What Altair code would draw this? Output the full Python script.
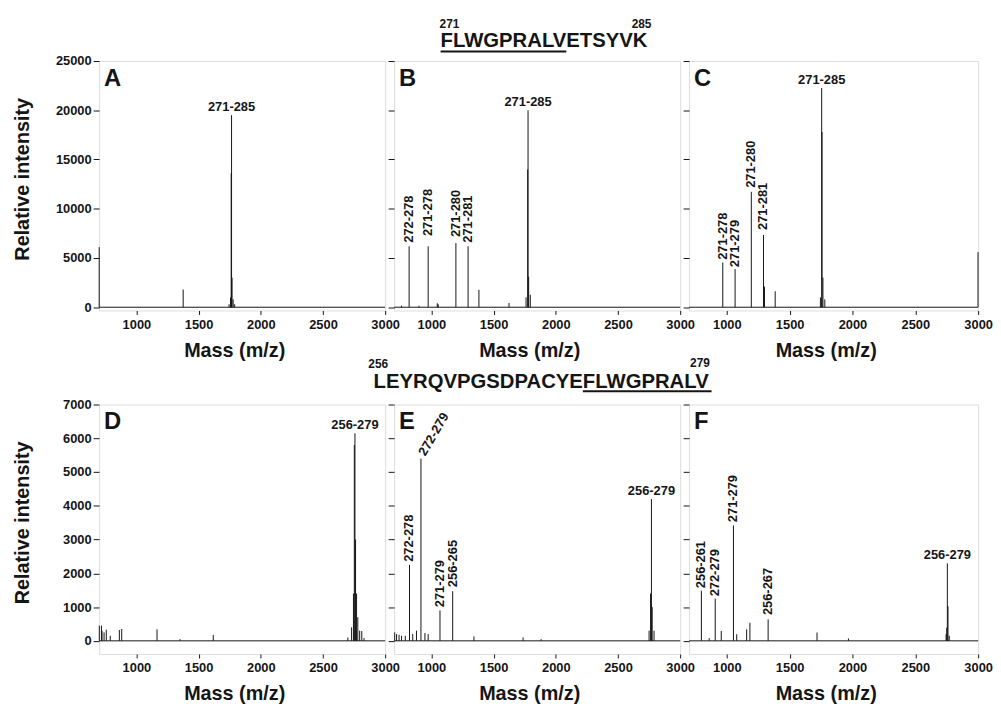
import altair as alt
import pandas as pd

FONT = "Liberation Sans"
INK = "#151515"

# ---------------- axes / scales ----------------
X_DOMAIN = [700, 3000]
X_TICKS = [1000, 1500, 2000, 2500, 3000]
TOP_Y_DOMAIN = [-330, 25000]
TOP_Y_TICKS = [0, 5000, 10000, 15000, 20000, 25000]
BOT_Y_DOMAIN = [-390, 7000]
BOT_Y_TICKS = [0, 1000, 2000, 3000, 4000, 5000, 6000, 7000]
X_TITLE = "Mass (m/z)"
Y_TITLE = "Relative intensity"

PANEL_LETTERS = ["A", "B", "C", "D", "E", "F"]
PANEL_WIDTHS = [289, 289, 292, 289, 289, 292]
ROW_HEIGHT = 252

# ---------------- spectra (m/z, intensity) ----------------
A_mass = [701, 1376, 1745, 1757, 1762, 1765, 1769, 1778, 1790]
A_int = [6100, 1800, 300, 1000, 13600, 19500, 3000, 800, 300]
A_lab_text = ["271-285"]
A_lab_mass = [1765]
A_lab_int = [19500]
A_lab_kind = ["h"]

B_mass = [760, 821, 900, 974, 1047, 1055, 1197, 1295, 1382, 1624, 1761, 1774, 1777, 1782, 1795]
B_int = [150, 6190, 150, 6190, 400, 300, 6520, 6190, 1770, 430, 1000, 14000, 20000, 3100, 1270]
B_lab_text = ["272-278", "271-278", "271-280", "271-281", "271-285"]
B_lab_mass = [821, 974, 1197, 1295, 1777]
B_lab_int = [6550, 7220, 7120, 6550, 20000]
B_lab_kind = ["v", "v", "v", "v", "h"]

C_mass = [968, 1066, 1195, 1292, 1300, 1385, 1745, 1755, 1758, 1765, 1780, 2999]
C_int = [4545, 3870, 11720, 7340, 2100, 1620, 1000, 22260, 17800, 3000, 800, 5600]
C_lab_text = ["271-278", "271-279", "271-280", "271-281", "271-285"]
C_lab_mass = [968, 1066, 1195, 1292, 1755]
C_lab_int = [4815, 4070, 12120, 7845, 22260]
C_lab_kind = ["v", "v", "v", "v", "h"]

D_mass = [702, 719, 724, 740, 758, 790, 863, 882, 1166, 1350, 1618, 2700, 2730, 2745,
          2752, 2757, 2762, 2770, 2780, 2795, 2812, 2830]
D_int = [450, 450, 300, 250, 330, 150, 320, 350, 340, 50, 175, 100, 400, 1400,
         5800, 6150, 3000, 1400, 700, 300, 290, 80]
D_lab_text = ["256-279"]
D_lab_mass = [2757]
D_lab_int = [6150]
D_lab_kind = ["h"]

E_mass = [705, 720, 740, 760, 790, 824, 850, 880, 916, 948, 974, 1069, 1171, 1342, 1737, 1882,
          2750, 2762, 2769, 2775, 2790]
E_int = [250, 200, 180, 150, 150, 2250, 200, 300, 5400, 230, 200, 900, 1470, 130, 100, 50,
         300, 1400, 4200, 1000, 300]
E_lab_text = ["272-278", "272-279", "271-279", "256-265", "256-279"]
E_lab_mass = [824, 916, 1069, 1171, 2769]
E_lab_int = [2340, 5460, 995, 1590, 4200]
E_lab_kind = ["v", "a", "v", "v", "h"]

F_mass = [798, 860, 908, 956, 1053, 1079, 1158, 1184, 1329, 1718, 1968, 2745, 2750, 2755, 2760, 2770]
F_int = [1484, 80, 1250, 293, 3418, 195, 340, 537, 635, 245, 70, 200, 390, 2295, 1025, 150]
F_lab_text = ["256-261", "272-279", "271-279", "256-267", "256-279"]
F_lab_mass = [798, 908, 1053, 1329, 2755]
F_lab_int = [1560, 1318, 3515, 762, 2295]
F_lab_kind = ["v", "v", "v", "v", "h"]

# ---------------- sequences ----------------
SEQ1_PARTS = ["FLWGPRALV", "ETSYVK"]      # first part underlined
SEQ1_NUMS = ["271", "285"]
SEQ2_PARTS = ["LEYRQVPGSDPACYE", "FLWGPRALV"]  # second part underlined
SEQ2_NUMS = ["256", "279"]


def x_axis(width):
    return alt.Axis(values=X_TICKS, format="d", title=X_TITLE, titleX=width / 2 - 8, titleY=46,
                    titleAlign="center", titleBaseline="alphabetic", titleFont=FONT,
                    titleFontSize=20, titleFontWeight="bold", titleColor=INK,
                    labelFont=FONT, labelFontSize=13, labelFontWeight="bold", labelColor=INK,
                    labelPadding=4, labelFlush=False, tickSize=4, tickColor=INK,
                    domain=False, grid=False)


def y_axis(ticks, show):
    kw = dict(values=ticks, format="d", labels=show, title=Y_TITLE if show else "",
              titleX=-71, titleY=119, titleAngle=270, titleAlign="center",
              titleBaseline="alphabetic", titleFont=FONT, titleFontSize=20,
              titleFontWeight="bold", titleColor=INK, labelFont=FONT, labelFontSize=13,
              labelFontWeight="bold", labelColor=INK, labelPadding=2, tickSize=6,
              tickColor=INK, domain=False, grid=False)
    return alt.Axis(**kw)


def txt(text, x, y, size, align, weight="bold"):
    return alt.Chart(pd.DataFrame({"t": [text]})).mark_text(
        align=align, baseline="alphabetic", font=FONT, fontSize=size,
        fontWeight=weight, color=INK).encode(x=alt.value(x), y=alt.value(y), text="t:N")


def underline(x1, x2, y):
    return alt.Chart(pd.DataFrame({"t": [0]})).mark_rule(color=INK, strokeWidth=2).encode(
        x=alt.value(x1), x2=alt.value(x2), y=alt.value(y))


def panel(i, mass, inten, lab_text, lab_mass, lab_int, lab_kind, ydom, yticks):
    width = PANEL_WIDTHS[i]
    show_y = i % 3 == 0
    xs = alt.X("mass:Q", scale=alt.Scale(domain=X_DOMAIN, nice=False, zero=False), axis=x_axis(width))
    ys = alt.Y("inten:Q", scale=alt.Scale(domain=ydom, nice=False, zero=False), axis=y_axis(yticks, show_y))
    pk = pd.DataFrame({"mass": mass, "inten": inten})
    lab = pd.DataFrame({"text": lab_text, "mass": lab_mass, "inten": lab_int, "kind": lab_kind})

    base = alt.Chart(pd.DataFrame({"inten": [0]})).mark_rule(color=INK, strokeWidth=1).encode(y=ys)
    peaks = alt.Chart(pk).mark_rule(color=INK, strokeWidth=1).encode(x=xs, y=ys, y2=alt.datum(0))
    common = dict(font=FONT, fontSize=13, fontWeight="bold", color=INK)
    layers = [base, peaks]
    if (lab.kind == "h").any():
        layers.append(alt.Chart(lab[lab.kind == "h"]).mark_text(
            align="center", baseline="alphabetic", dy=-4, **common).encode(x=xs, y=ys, text="text:N"))
    if (lab.kind == "v").any():
        layers.append(alt.Chart(lab[lab.kind == "v"]).mark_text(
            angle=270, align="left", baseline="middle", **common).encode(x=xs, y=ys, text="text:N"))
    if (lab.kind == "a").any():
        layers.append(alt.Chart(lab[lab.kind == "a"]).mark_text(
            angle=300, align="left", baseline="middle", dx=2, **common).encode(x=xs, y=ys, text="text:N"))
    layers.append(txt(PANEL_LETTERS[i], 5, 25, 24, "left"))

    if i == 1:
        layers += [
            txt(SEQ1_PARTS[0], 174, -13.7, 20.5, "right"),
            txt(SEQ1_PARTS[1], 174, -13.7, 20.5, "left"),
            underline(47, 174, -9.5),
            txt(SEQ1_NUMS[0], 46, -33, 12, "left"),
            txt(SEQ1_NUMS[1], 260, -33, 12, "right"),
        ]
    if i == 4:
        layers += [
            txt(SEQ2_PARTS[0], 190.7, -17, 20.5, "right"),
            txt(SEQ2_PARTS[1], 190.7, -17, 20.5, "left"),
            underline(190.7, 320.7, -13.5),
            txt(SEQ2_NUMS[0], -26, -37, 12, "left"),
            txt(SEQ2_NUMS[1], 319, -37.5, 12, "right"),
        ]
    return alt.layer(*layers).properties(width=width, height=ROW_HEIGHT)


panels = [
    panel(0, A_mass, A_int, A_lab_text, A_lab_mass, A_lab_int, A_lab_kind, TOP_Y_DOMAIN, TOP_Y_TICKS),
    panel(1, B_mass, B_int, B_lab_text, B_lab_mass, B_lab_int, B_lab_kind, TOP_Y_DOMAIN, TOP_Y_TICKS),
    panel(2, C_mass, C_int, C_lab_text, C_lab_mass, C_lab_int, C_lab_kind, TOP_Y_DOMAIN, TOP_Y_TICKS),
    panel(3, D_mass, D_int, D_lab_text, D_lab_mass, D_lab_int, D_lab_kind, BOT_Y_DOMAIN, BOT_Y_TICKS),
    panel(4, E_mass, E_int, E_lab_text, E_lab_mass, E_lab_int, E_lab_kind, BOT_Y_DOMAIN, BOT_Y_TICKS),
    panel(5, F_mass, F_int, F_lab_text, F_lab_mass, F_lab_int, F_lab_kind, BOT_Y_DOMAIN, BOT_Y_TICKS),
]

chart = alt.concat(*panels, columns=3, spacing={"row": 95, "column": 9}, bounds="flush").properties(
    padding={"left": 4, "top": 6, "right": 0, "bottom": 0}
).configure_view(stroke=INK, strokeWidth=1).configure(background="white")

chart.save("out.html", embed_options={"renderer": "svg", "actions": False})
